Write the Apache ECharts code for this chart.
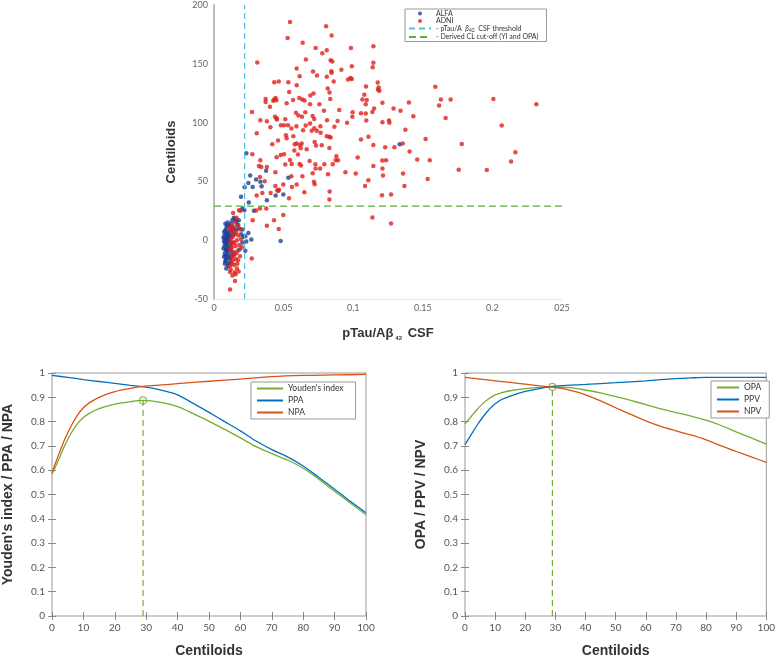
<!DOCTYPE html>
<html><head><meta charset="utf-8">
<script src="https://cdn.jsdelivr.net/npm/echarts@6/dist/echarts.min.js"></script>
<style>html,body{margin:0;padding:0;background:#fff}#c{width:778px;height:659px}</style>
</head><body><div id="c"></div>
<script>
// ---------- Top scatter data ----------
const scatterXTickLabels = ['0','0.05','0.1','0.15','0.2','025'];
const alfa = [
[0.008,-2],[0.009,3],[0.0085,-8],[0.01,5],[0.0095,-12],[0.011,0],[0.0075,-5],[0.008,8],[0.009,-15],[0.0105,-20],
[0.0088,10],[0.0078,1],[0.0092,-4],[0.0102,-9],[0.0112,4],[0.0082,-18],[0.0098,-22],[0.0108,-6],[0.0072,-1],[0.0086,6],
[0.0118,-3],[0.0125,-10],[0.0095,2],[0.0105,12],[0.0115,8],[0.0122,14],[0.0132,17],[0.0142,19],[0.0152,18],[0.0162,16],
[0.0138,11],[0.0128,6],[0.0135,-2],[0.0145,-12],[0.0118,-16],[0.0088,-24],[0.0078,-11],[0.0068,-7],[0.0082,-13],[0.0092,-9],
[0.0102,-1],[0.0112,-13],[0.0098,7],[0.0088,-3],[0.0108,1],[0.0122,-7],[0.0075,4],[0.0085,0],[0.0095,-7],[0.0105,-15],
[0.0115,-19],[0.0125,3],[0.0135,8],[0.0148,5],[0.0158,9],[0.0168,13],[0.0178,17],[0.018,10],[0.0195,5],[0.0205,9],[0.021,3],
[0.0072,-14],[0.0078,-20],[0.0085,-17],[0.0092,12],[0.0099,15],[0.0068,2],[0.0073,7],[0.0082,14],[0.0119,11],[0.0128,-14],
[0.0194,37],[0.0204,27],[0.0218,25.5],[0.0232,74],[0.022,45],[0.0247,48.7],[0.026,55],[0.0278,45.3],[0.0302,51.6],[0.0342,45.9],
[0.0333,49.6],[0.0374,59],[0.038,34],[0.025,32],[0.0287,25],[0.0443,38],[0.0498,38.8],[0.0534,53],[0.0479,-0.6],[0.1334,81.6],
[0.0225,-9],[0.0225,3.4],[0.0247,6.2],[0.0268,0.6],[0.0204,-2],[0.0184,-8],[0.0232,-1]
];
const adni = [
[0.0115,-42],[0.0151,-34.6],[0.0137,23.2],[0.018,25.5],[0.019,25],[0.0148,-27.2],[0.0177,-26.6],[0.0115,-27],[0.0115,-22],[0.012,-25],
[0.013,-19.8],[0.0187,-13.6],[0.017,-9],[0.0125,-14],[0.014,-10],[0.0155,-5],[0.0165,0],[0.0175,4],[0.012,8],[0.013,12],
[0.0145,10],[0.016,7],[0.0135,3],[0.0125,-3],[0.0158,-16],[0.0168,-20],[0.0145,-21],[0.0135,-17],[0.0115,-8],[0.0128,-6],
[0.0148,-2],[0.016,-11],[0.0182,-4],[0.019,9],[0.0175,13],[0.0152,15],[0.0138,5],[0.0122,1],[0.0142,-13],[0.0165,-24],
[0.0132,-30],[0.0155,-29],[0.0112,11],[0.0118,-2],[0.0195,1],[0.02,-6],[0.0172,-17],[0.0162,19],
[0.0546,185.6],[0.0805,182],[0.0529,172],[0.0845,174],[0.0637,168],[0.1145,165],[0.073,163.5],[0.0984,163.5],[0.081,161.5],[0.0778,159],
[0.066,153.6],[0.0838,153],[0.085,152],[0.1145,150.8],[0.0311,151],[0.114,147],[0.099,148],[0.0594,146],[0.0843,143.7],[0.0845,142.3],
[0.0711,143.4],[0.0915,145],[0.074,140],[0.081,139],[0.0615,139.5],[0.098,138],[0.099,137],[0.0963,136.6],[0.086,135],[0.0534,134.3],
[0.0465,135],[0.0433,134.3],[0.1176,134],[0.0594,131.8],[0.1092,130.6],[0.159,130.4],[0.1183,129.8],[0.1178,128],[0.0817,129],[0.1188,127],
[0.054,126],[0.083,125.5],[0.0715,124.7],[0.0692,123],[0.108,123.6],[0.0835,120],[0.0613,121],[0.0635,119.6],[0.0568,119.3],[0.065,118.7],
[0.0371,120],[0.0433,119.6],[0.0442,121],[0.0426,118.5],[0.0371,117.6],[0.0448,119],[0.1097,119.3],[0.1066,119.6],[0.163,119.6],[0.2007,120],
[0.17,119.6],[0.2316,115.6],[0.1617,114.5],[0.121,116.8],[0.14,117],[0.0522,116.5],[0.069,115.6],[0.0757,115.6],[0.109,115.6],[0.134,110],
[0.129,112],[0.115,112],[0.09,110.8],[0.0402,113.4],[0.0273,109],[0.079,110],[0.0656,108.8],[0.0589,108.3],[0.0996,108.8],[0.1056,108],
[0.109,107.7],[0.1138,109],[0.0606,106],[0.0709,105.7],[0.0632,104.9],[0.0438,104.9],[0.045,103.7],[0.0994,104.9],[0.1432,105.4],[0.1664,104],
[0.0452,102.6],[0.072,103],[0.0512,102.9],[0.0333,102],[0.038,101.2],[0.1257,101.7],[0.1094,101.7],[0.0812,102],[0.0888,101.4],[0.121,100.3],
[0.126,99.8],[0.0956,99.8],[0.069,99.2],[0.0532,97.8],[0.0592,96.9],[0.2067,97.5],[0.0764,96.9],[0.0481,97.8],[0.0503,97.8],[0.0659,97.5],
[0.0405,96],[0.0865,96.4],[0.1375,94],[0.072,95.2],[0.0738,93],[0.0702,93],[0.0556,95],[0.064,93.5],[0.0766,91.3],[0.0307,91],
[0.057,88.4],[0.081,88.4],[0.0517,89.3],[0.0829,87.9],[0.0522,86.7],[0.0838,87.3],[0.111,88],[0.1056,85.6],[0.152,86],[0.046,84.7],
[0.0723,83.6],[0.0594,82.2],[0.058,81.6],[0.0618,80.8],[0.063,82.2],[0.0419,81.6],[0.1356,82.2],[0.178,81.9],[0.1145,81],[0.0733,80.5],
[0.0774,80.8],[0.123,79],[0.1296,79],[0.1405,75.4],[0.2165,74.8],[0.0829,78.5],[0.0623,78.2],[0.0666,77.4],[0.0577,76.2],[0.0603,72.8],
[0.0503,73],[0.0275,73],[0.0479,72.5],[0.0879,71.4],[0.045,70.5],[0.1032,70.3],[0.0874,68],[0.0891,68],[0.1209,67.7],[0.146,68.6],
[0.155,68],[0.2134,66.9],[0.1236,68],[0.0687,67.4],[0.0546,68.3],[0.0333,68],[0.0853,64.6],[0.0558,64.9],[0.0728,64.6],[0.0512,64.3],
[0.0615,64.9],[0.0323,63.2],[0.0793,64.6],[0.1145,63.2],[0.034,62.3],[0.038,62.3],[0.0625,63.5],[0.073,61],[0.0762,61],[0.121,61],
[0.1758,60],[0.196,59.8],[0.0441,57.8],[0.0944,57.8],[0.1018,56.7],[0.1358,56.7],[0.0819,56],[0.0709,57],[0.0635,54.4],[0.0556,54.4],
[0.1214,55],[0.033,53.8],[0.1109,51],[0.1535,52],[0.0364,50.2],[0.0498,47.3],[0.0718,49.6],[0.0723,47.6],[0.1085,46],[0.1368,46],
[0.0594,47.3],[0.056,45.3],[0.0441,46],[0.0455,42.5],[0.0467,43],[0.0462,41.8],[0.0407,40.2],[0.0347,40.2],[0.0649,40.8],[0.0831,41.4],
[0.1207,38.3],[0.1272,38.8],[0.0307,38],[0.0539,35.7],[0.0829,34.6],[0.033,27],[0.0376,27],[0.0302,25.2],[0.0498,21.5],[0.1138,19.3],
[0.0278,17],[0.0431,17],[0.1272,14.2],[0.038,12.2],[0.0465,9.6],[0.0271,-15.6]
];
const csfThreshold = 0.022;
const clCutoff = 29;

// ---------- Bottom-left curves (Centiloids, value) ----------
const youden = [[0,0.583],[2,0.64],[4,0.70],[6,0.75],[8,0.79],[10,0.817],[12,0.835],[15,0.853],[20,0.872],[25,0.882],[29,0.887],[35,0.878],[40,0.862],[45,0.833],[50,0.801],[55,0.768],[60,0.733],[65,0.697],[70,0.668],[75,0.642],[80,0.608],[85,0.563],[90,0.513],[95,0.465],[100,0.417]];
const ppa = [[0,0.99],[5,0.982],[10,0.973],[15,0.965],[20,0.957],[25,0.949],[29,0.943],[33,0.935],[37,0.922],[40,0.91],[45,0.875],[50,0.838],[55,0.8],[60,0.762],[65,0.72],[70,0.685],[75,0.655],[80,0.617],[85,0.57],[90,0.522],[95,0.472],[100,0.425]];
const npa = [[0,0.59],[2,0.66],[4,0.725],[6,0.78],[8,0.825],[10,0.857],[12,0.878],[15,0.9],[20,0.923],[25,0.937],[29,0.945],[35,0.951],[40,0.956],[50,0.966],[60,0.975],[70,0.985],[80,0.99],[90,0.992],[100,0.994]];
const yiOptimum = [29, 0.887];

// ---------- Bottom-right curves ----------
const opa = [[0,0.79],[2,0.82],[4,0.85],[6,0.875],[8,0.895],[10,0.91],[12,0.918],[15,0.927],[20,0.936],[25,0.941],[29,0.943],[35,0.94],[40,0.93],[45,0.918],[50,0.903],[55,0.887],[60,0.87],[65,0.852],[70,0.837],[75,0.823],[80,0.806],[85,0.784],[90,0.758],[95,0.733],[100,0.707]];
const ppv = [[0,0.705],[2,0.745],[4,0.785],[6,0.82],[8,0.85],[10,0.873],[12,0.89],[15,0.905],[20,0.924],[25,0.937],[29,0.945],[35,0.95],[40,0.953],[50,0.96],[60,0.968],[70,0.977],[75,0.98],[80,0.982],[90,0.982],[100,0.982]];
const npv = [[0,0.982],[5,0.975],[10,0.968],[15,0.961],[20,0.954],[25,0.947],[29,0.942],[33,0.935],[37,0.922],[40,0.91],[45,0.885],[50,0.857],[55,0.83],[60,0.803],[65,0.78],[70,0.762],[75,0.745],[80,0.725],[85,0.7],[90,0.677],[95,0.655],[100,0.632]];
const opaOptimum = [29, 0.943];

const GREEN='#77AC30', BLUE='#0072BD', ORANGE='#D95319';
const tickFont = {color:'#555', fontSize:10, fontFamily:'Lato'};
const titleFont = {color:'#333', fontWeight:'bold', fontFamily:'Liberation Sans'};
const noSym = {opacity:0};

function frameAxes(gi, pos, isY){
  return {type:'value', gridIndex:gi, position:pos, min:0, max: isY?1:100, interval: isY?0.1:10,
    axisLine:{show:false}, axisLabel:{show:false}, splitLine:{show:false},
    axisTick:{show:true, inside:true, length:4, lineStyle:{color:'#888'}}};
}

const chart = echarts.init(document.getElementById('c'), null, {renderer:'canvas'});
chart.setOption({
  animation:false,
  backgroundColor:'#fff',
  grid:[
    {left:214, top:5, width:348, height:294},
    {left:46, top:373, width:320, height:252, show:true, borderColor:'#999', borderWidth:1},
    {left:465, top:373, width:307, height:253, show:true, borderColor:'#999', borderWidth:1}
  ],
  xAxis:[
    {type:'value', gridIndex:0, min:0, max:0.25, interval:0.05,
     axisLine:{show:true, onZero:false, lineStyle:{color:'#e4e4e4', width:1}}, axisTick:{show:false}, splitLine:{show:false},
     axisLabel:{fontSize:9, margin:5, formatter:(v,i)=>scatterXTickLabels[i], color:'#666', fontFamily:'Lato'},
     name:'{a|pTau/Aβ}{s|42}{a| CSF}', nameLocation:'middle', nameGap:26,
     nameTextStyle:{rich:{a:Object.assign({fontSize:13},titleFont), s:{fontSize:6, fontWeight:'bold', color:'#333', padding:[10,2,0,2], fontFamily:'Liberation Sans'}}}},
    Object.assign(frameAxes(1,'bottom',false), {axisLabel:Object.assign({show:true, margin:7},tickFont),
      name:'Centiloids', nameLocation:'middle', nameGap:28, nameTextStyle:Object.assign({fontSize:14},titleFont)}),
    frameAxes(1,'top',false),
    Object.assign(frameAxes(2,'bottom',false), {axisLabel:Object.assign({show:true, margin:7},tickFont),
      name:'Centiloids', nameLocation:'middle', nameGap:28, nameTextStyle:Object.assign({fontSize:14},titleFont)}),
    frameAxes(2,'top',false)
  ],
  yAxis:[
    {type:'value', gridIndex:0, min:-50, max:200, interval:50,
     axisLine:{show:true, onZero:false, lineStyle:{color:'#bbb', width:2}}, axisTick:{show:false}, splitLine:{show:false},
     axisLabel:{fontSize:9, color:'#666', fontFamily:'Lato', margin:6},
     name:'Centiloids', nameLocation:'middle', nameGap:36, nameRotate:90, nameTextStyle:Object.assign({fontSize:13},titleFont)},
    Object.assign(frameAxes(1,'left',true), {axisLabel:Object.assign({show:true, margin:7},tickFont),
      name:"Youden's index / PPA / NPA", nameLocation:'middle', nameGap:37, nameRotate:90, nameTextStyle:Object.assign({fontSize:14},titleFont)}),
    frameAxes(1,'right',true),
    Object.assign(frameAxes(2,'left',true), {axisLabel:Object.assign({show:true, margin:7},tickFont),
      name:'OPA / PPV / NPV', nameLocation:'middle', nameGap:37, nameRotate:90, nameTextStyle:Object.assign({fontSize:14},titleFont)}),
    frameAxes(2,'right',true)
  ],
  legend:[
    {left:405, top:9, orient:'vertical', padding:[1,8,1,3], itemGap:0.5, itemWidth:22, itemHeight:4, itemTextGap:4,
     borderColor:'#999', borderWidth:1, backgroundColor:'#fff',
     data:['ALFA','ADNI',{name:'pTau/Aβ42 CSF threshold', itemStyle:noSym},{name:'Derived CL cut-off (YI and OPA)', itemStyle:noSym}],
     formatter:n=> n==='pTau/Aβ42 CSF threshold' ? '- pTau/A  {b|β}{s|42}  CSF threshold' : (n.indexOf('Derived')===0 ? '- '+n : n),
     textStyle:{fontSize:7, color:'#333', fontFamily:'Lato', lineHeight:7,
       rich:{b:{fontSize:7,fontStyle:'italic',color:'#333'}, s:{fontSize:5,color:'#333',padding:[4,0,0,0]}}}},
    {left:251, top:382, orient:'vertical', padding:[2,12,2,5], itemGap:3, itemWidth:26, itemHeight:8, itemTextGap:3,
     borderColor:'#999', borderWidth:1, backgroundColor:'#fff',
     data:[{name:"Youden's index",itemStyle:noSym},{name:'PPA',itemStyle:noSym},{name:'NPA',itemStyle:noSym}], textStyle:{fontSize:8.5, color:'#333', fontFamily:'Lato'}},
    {left:711, top:381, orient:'vertical', padding:[2,8,2,5], itemGap:3, itemWidth:22, itemHeight:8, itemTextGap:3,
     borderColor:'#999', borderWidth:1, backgroundColor:'#fff',
     data:[{name:'OPA',itemStyle:noSym},{name:'PPV',itemStyle:noSym},{name:'NPV',itemStyle:noSym}], textStyle:{fontSize:8.5, color:'#333', fontFamily:'Lato'}}
  ],
  series:[
    {name:'ALFA', type:'scatter', xAxisIndex:0, yAxisIndex:0, data:alfa, symbolSize:4.5, itemStyle:{color:'#1c3f9a'}},
    {name:'ADNI', type:'scatter', xAxisIndex:0, yAxisIndex:0, data:adni, symbolSize:4.5, itemStyle:{color:'#e0201c'}},
    {name:'pTau/Aβ42 CSF threshold', type:'line', xAxisIndex:0, yAxisIndex:0, symbol:'none',
     data:[[csfThreshold,-50],[csfThreshold,200]], lineStyle:{color:'#55bfe0', width:1.2, type:[6,4]}, itemStyle:{color:'#55bfe0'}},
    {name:'Derived CL cut-off (YI and OPA)', type:'line', xAxisIndex:0, yAxisIndex:0, symbol:'none',
     data:[[0,clCutoff],[0.25,clCutoff]], lineStyle:{color:'#5aae3a', width:1.2, type:[7,4]}, itemStyle:{color:'#5aae3a'}},

    {name:"Youden's index", type:'line', xAxisIndex:1, yAxisIndex:1, data:youden, symbol:'none', smooth:0.3, lineStyle:{color:GREEN,width:1.3}, itemStyle:{color:GREEN}},
    {name:'PPA', type:'line', xAxisIndex:1, yAxisIndex:1, data:ppa, symbol:'none', smooth:0.3, lineStyle:{color:BLUE,width:1.3}, itemStyle:{color:BLUE}},
    {name:'NPA', type:'line', xAxisIndex:1, yAxisIndex:1, data:npa, symbol:'none', smooth:0.3, lineStyle:{color:ORANGE,width:1.3}, itemStyle:{color:ORANGE}},
    {name:'yiDrop', type:'line', xAxisIndex:1, yAxisIndex:1, data:[[yiOptimum[0],0],yiOptimum], symbol:'none', lineStyle:{color:GREEN,width:1.2,type:[6,4]}},
    {name:'yiMark', type:'scatter', xAxisIndex:1, yAxisIndex:1, data:[yiOptimum], symbol:'circle', symbolSize:7, itemStyle:{color:'rgba(0,0,0,0)', borderColor:GREEN, borderWidth:1.2}},

    {name:'OPA', type:'line', xAxisIndex:3, yAxisIndex:3, data:opa, symbol:'none', smooth:0.3, lineStyle:{color:GREEN,width:1.3}, itemStyle:{color:GREEN}},
    {name:'PPV', type:'line', xAxisIndex:3, yAxisIndex:3, data:ppv, symbol:'none', smooth:0.3, lineStyle:{color:BLUE,width:1.3}, itemStyle:{color:BLUE}},
    {name:'NPV', type:'line', xAxisIndex:3, yAxisIndex:3, data:npv, symbol:'none', smooth:0.3, lineStyle:{color:ORANGE,width:1.3}, itemStyle:{color:ORANGE}},
    {name:'opaDrop', type:'line', xAxisIndex:3, yAxisIndex:3, data:[[opaOptimum[0],0],opaOptimum], symbol:'none', lineStyle:{color:GREEN,width:1.2,type:[6,4]}},
    {name:'opaMark', type:'scatter', xAxisIndex:3, yAxisIndex:3, data:[opaOptimum], symbol:'circle', symbolSize:7, itemStyle:{color:'rgba(0,0,0,0)', borderColor:GREEN, borderWidth:1.2}}
  ]
});
</script></body></html>
